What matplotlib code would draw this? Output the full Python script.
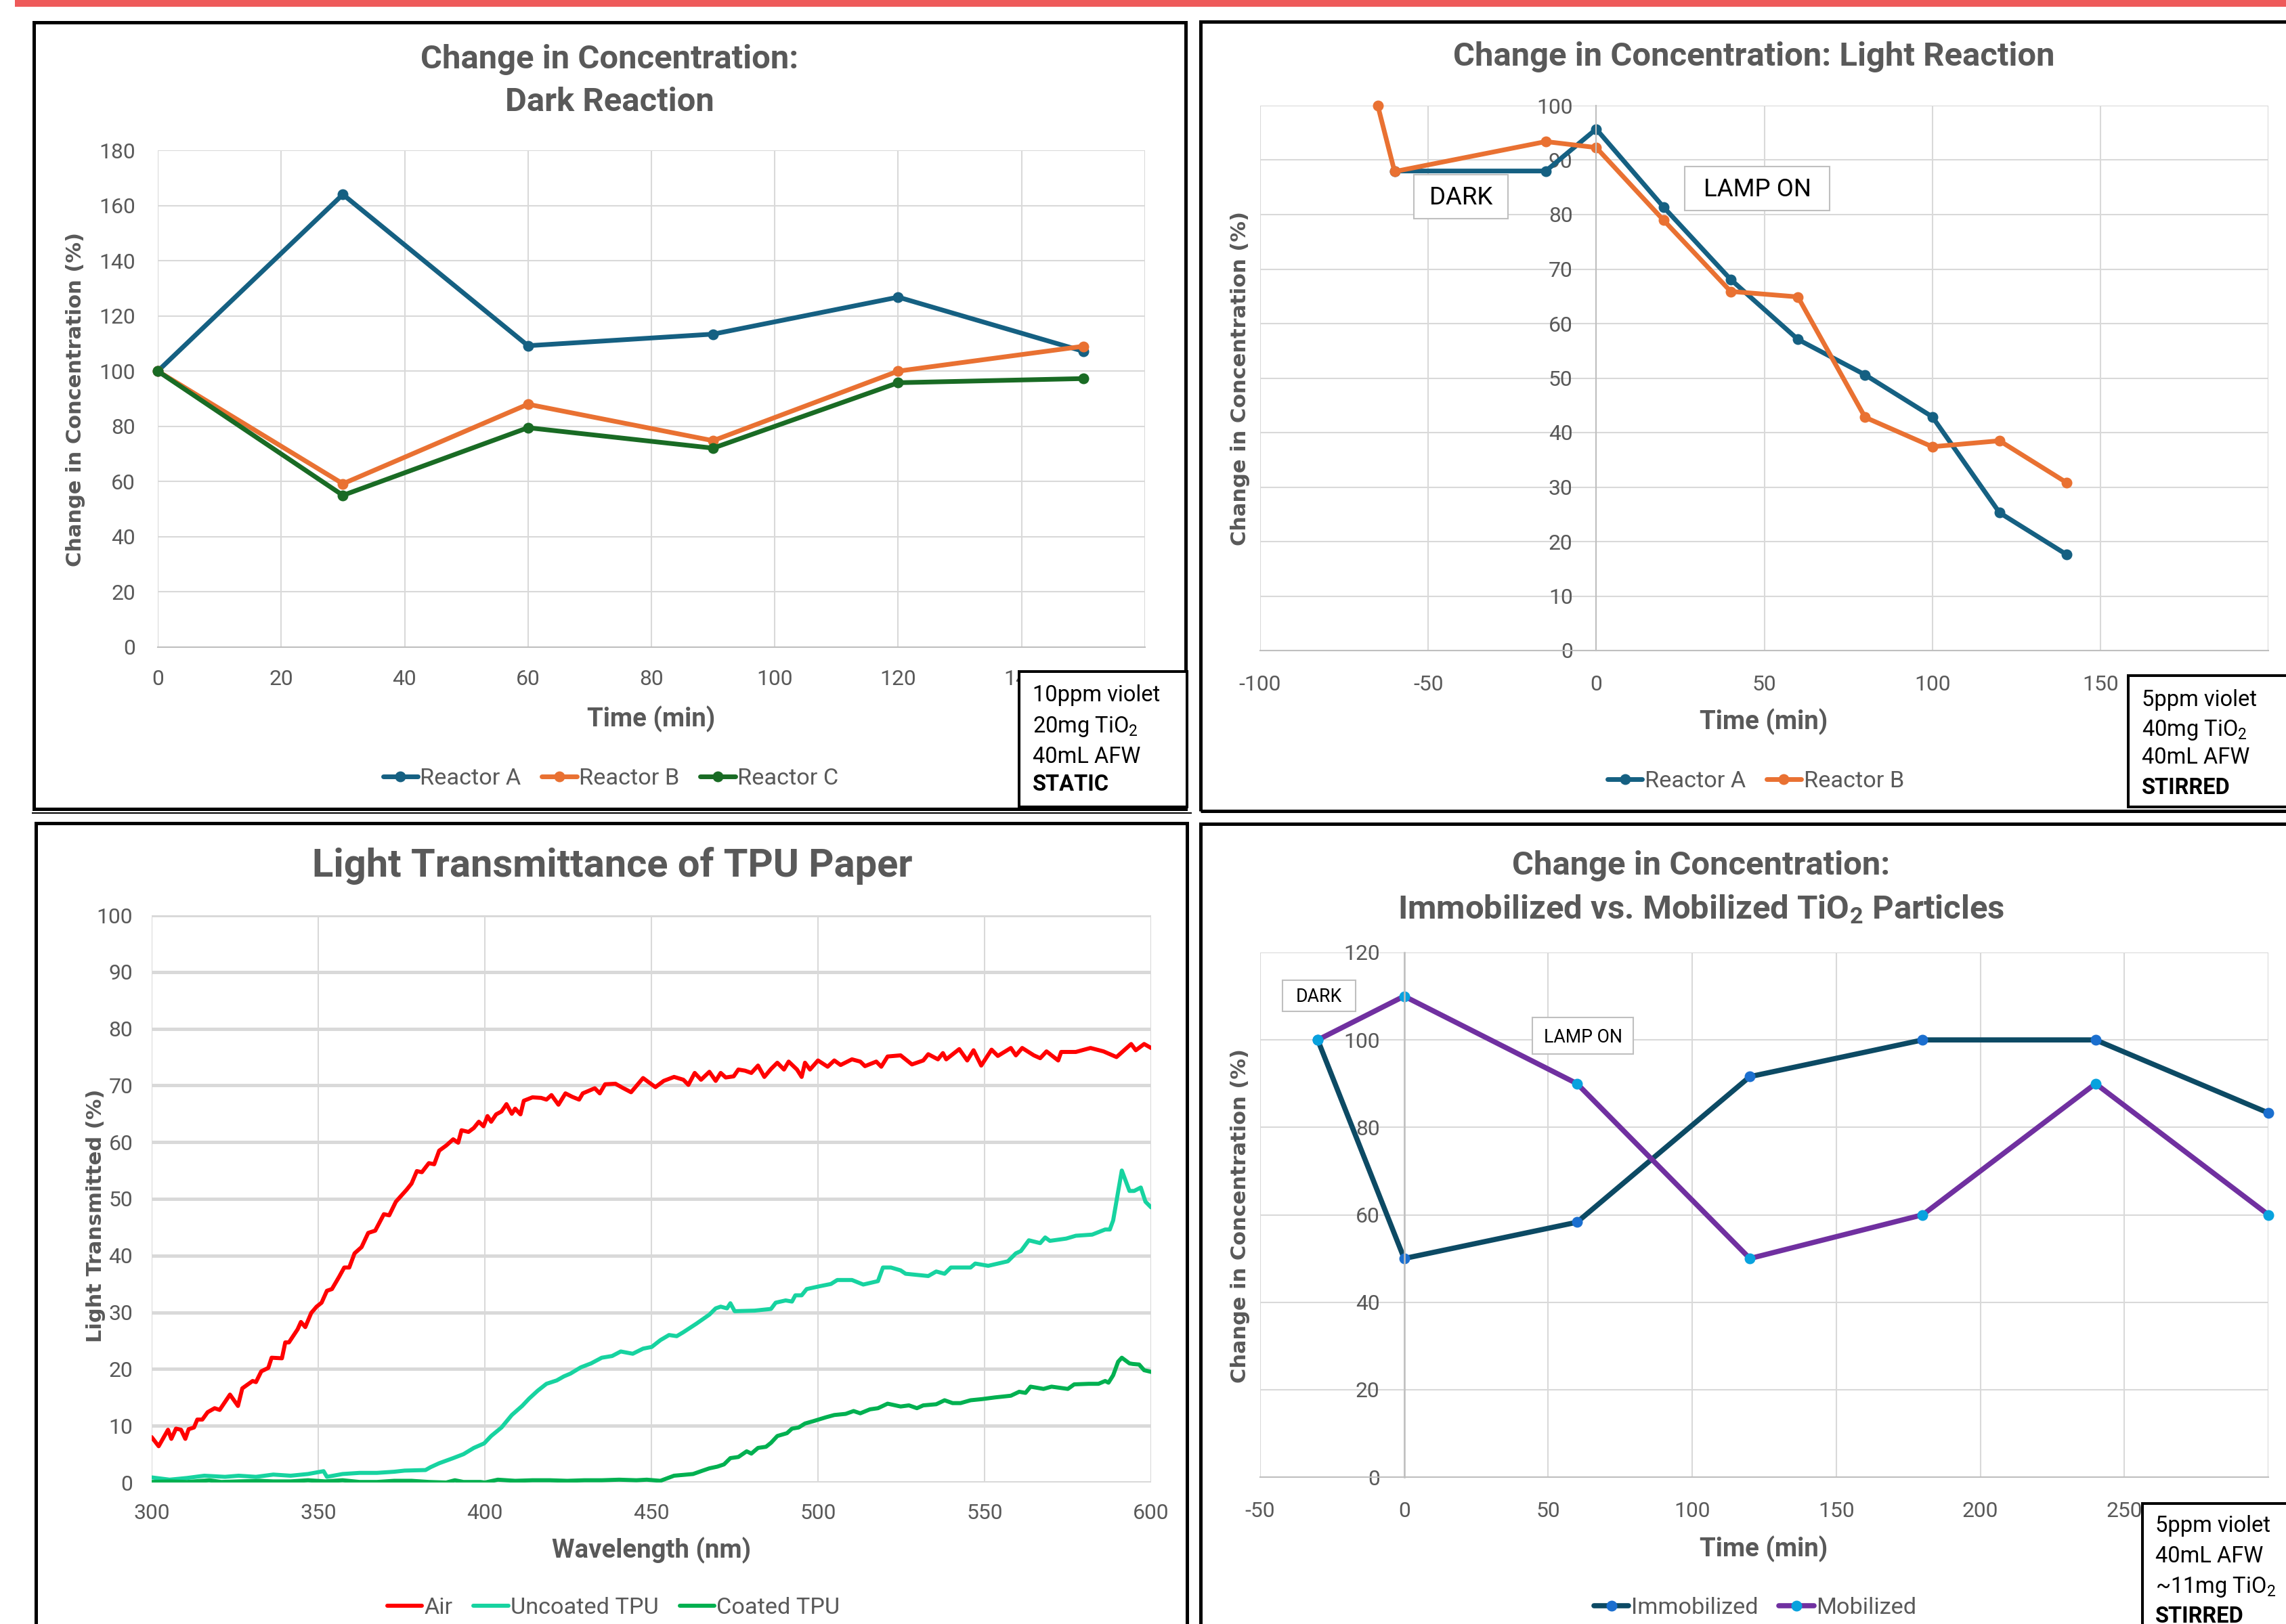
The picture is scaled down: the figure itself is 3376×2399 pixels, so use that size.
import matplotlib

# Use non-GUI backend
matplotlib.use('Agg')

import matplotlib.pyplot as plt
from matplotlib import font_manager
from matplotlib.patches import Rectangle

# -----------------------------
# DATA
# -----------------------------

# dark reaction (top left)
time_dark = [0, 30, 60, 90, 120, 150]
dark_a = [100, 164, 109.2, 113.4, 126.8, 107.2]
dark_b = [100, 59.2, 88.0, 74.8, 100, 109]
dark_c = [100, 55, 79.5, 72.1, 95.8, 97.3]

# light reaction (top right)
time_light_a = [-60, -15, 0, 20, 40, 60, 80, 100, 120, 140]
light_a = [88, 88, 95.7, 81.4, 68.1, 57.1, 50.6, 42.9, 25.3, 17.6]
time_light_b = [-65, -60, -15, 0, 20, 40, 60, 80, 100, 120, 140]
light_b = [100, 87.9, 93.4, 92.3, 79.0, 65.9, 64.9, 42.8, 37.4, 38.5, 30.8]

# immobilized vs mobilized (bottom right)
time_mob = [-30, 0, 60, 120, 180, 240, 300]
immobilized = [100, 50, 58.3, 91.6, 100, 100, 83.3]
mobilized = [100, 110, 90, 50, 60, 90, 60]

# transmittance spectra (bottom left), (wavelength nm, % transmitted)
air_curve = [
    (300.0, 8.0), (302.1, 6.4), (304.9, 9.3), (305.9, 7.7), (307.3, 9.5), (308.8, 9.3),
    (310.1, 7.7), (311.1, 9.4), (312.7, 9.7), (313.7, 11.1), (315.2, 11.1), (316.8, 12.4),
    (318.9, 13.1), (320.4, 12.8), (322.0, 14.2), (323.5, 15.5), (325.9, 13.5), (327.2, 16.6),
    (330.3, 17.9), (331.3, 17.7), (332.9, 19.6), (335.0, 20.2), (336.0, 22.0), (339.1, 21.9),
    (340.1, 24.7), (341.2, 24.7), (343.8, 27.0), (344.8, 28.3), (346.1, 27.4), (347.9, 29.9),
    (349.5, 31.0), (351.0, 31.7), (352.6, 33.8), (354.1, 34.1), (356.2, 36.2), (357.8, 37.9),
    (359.3, 37.9), (360.9, 40.4), (363.0, 41.5), (365.0, 44.0), (367.1, 44.4), (369.7, 47.3),
    (371.3, 47.1), (373.3, 49.5), (376.5, 51.6), (378.0, 52.7), (379.6, 54.9), (381.1, 54.7),
    (383.2, 56.3), (384.8, 56.1), (386.3, 58.5), (388.4, 59.4), (390.5, 60.5), (392.0, 59.9),
    (393.0, 62.1), (395.1, 61.8), (396.7, 62.5), (398.2, 63.6), (399.6, 62.8), (400.8, 64.6),
    (401.9, 63.6), (403.4, 64.9), (405.0, 65.4), (406.5, 66.7), (408.1, 65.0), (409.1, 65.9),
    (410.7, 64.9), (411.7, 67.3), (414.3, 67.9), (416.9, 67.8), (418.5, 67.5), (420.0, 68.3),
    (422.1, 66.6), (424.2, 68.6), (426.2, 68.0), (428.3, 67.5), (429.4, 68.6), (433.0, 69.5),
    (434.5, 68.6), (436.1, 70.2), (439.2, 70.3), (441.3, 69.6), (443.9, 68.8), (447.5, 71.3),
    (449.1, 70.6), (451.2, 69.7), (453.7, 70.8), (456.8, 71.5), (459.6, 71.0), (461.1, 70.1),
    (463.0, 72.2), (464.9, 71.0), (467.4, 72.4), (469.3, 70.8), (470.8, 72.2), (472.3, 71.4),
    (474.7, 71.6), (476.1, 72.8), (478.1, 72.6), (480.0, 72.2), (482.0, 73.5), (483.9, 71.5),
    (485.9, 72.9), (487.8, 74.0), (489.8, 72.8), (491.2, 74.2), (493.7, 72.8), (495.1, 71.5),
    (496.1, 74.0), (497.6, 72.8), (500.0, 74.4), (502.9, 73.3), (504.9, 74.4), (506.8, 73.6),
    (510.2, 74.6), (512.7, 74.2), (514.1, 73.4), (517.5, 74.2), (519.0, 73.3), (520.9, 75.1),
    (524.8, 75.3), (528.2, 73.7), (531.6, 74.4), (533.1, 75.5), (536.0, 74.6), (537.5, 75.7),
    (538.5, 74.6), (542.4, 76.4), (544.8, 74.4), (546.7, 76.2), (549.0, 73.5), (552.1, 76.3),
    (554.0, 75.2), (557.9, 76.6), (559.4, 75.3), (561.3, 76.6), (564.8, 75.3), (566.7, 74.8),
    (568.6, 76.0), (572.1, 74.4), (573.0, 75.9), (577.4, 75.9), (581.8, 76.6), (585.7, 76.0),
    (589.6, 75.0), (594.0, 77.3), (595.4, 76.2), (597.9, 77.3), (600.0, 76.6),
]

uncoated_curve = [
    (300.0, 0.9), (305.4, 0.5), (310.6, 0.8), (315.8, 1.2), (322.0, 1.0), (326.1, 1.2),
    (331.3, 1.0), (336.5, 1.4), (341.7, 1.2), (346.9, 1.5), (351.6, 2.0), (352.6, 1.0),
    (357.3, 1.5), (362.4, 1.7), (367.6, 1.7), (372.8, 1.9), (375.9, 2.1), (382.2, 2.2),
    (383.7, 2.7), (386.3, 3.4), (390.5, 4.3), (393.6, 5.0), (396.7, 6.1), (399.8, 6.9),
    (401.9, 8.2), (405.0, 9.7), (408.1, 11.9), (411.2, 13.5), (413.3, 14.8), (415.9, 16.2),
    (418.5, 17.4), (421.6, 18.0), (423.7, 18.7), (425.7, 19.2), (428.8, 20.3), (431.9, 21.0),
    (435.1, 22.0), (438.2, 22.3), (440.8, 23.1), (444.4, 22.7), (447.5, 23.6), (450.1, 23.9),
    (452.7, 25.1), (455.3, 26.0), (457.6, 25.8), (459.6, 26.5), (463.5, 28.0), (467.4, 29.6),
    (469.3, 30.7), (470.8, 31.0), (472.7, 30.7), (473.7, 31.6), (475.0, 30.2), (481.0, 30.3),
    (485.9, 30.6), (487.3, 31.7), (490.3, 32.1), (492.2, 31.9), (493.2, 33.0), (495.1, 33.0),
    (496.6, 34.1), (500.5, 34.6), (503.9, 35.0), (505.8, 35.7), (510.2, 35.7), (513.6, 34.9),
    (518.0, 35.5), (519.5, 37.9), (521.9, 37.9), (524.8, 37.4), (526.3, 36.8), (533.1, 36.4),
    (535.5, 37.2), (538.0, 36.8), (539.9, 37.9), (545.8, 37.9), (547.2, 38.6), (551.1, 38.2),
    (557.0, 39.0), (559.4, 40.4), (560.9, 40.8), (563.3, 42.7), (566.7, 42.2), (568.2, 43.2),
    (569.6, 42.6), (574.5, 43.0), (577.4, 43.5), (582.3, 43.7), (586.2, 44.6), (587.6, 44.6),
    (588.6, 46.2), (590.1, 51.3), (591.2, 55.0), (593.5, 51.4), (594.9, 51.4), (596.9, 52.0),
    (598.3, 49.5), (600.0, 48.5),
]

coated_curve = [
    (300.0, 0.1), (305.4, 0.2), (310.6, 0.1), (317.3, 0.4), (320.9, 0.1), (326.1, 0.2),
    (332.4, 0.3), (336.5, 0.2), (341.7, 0.2), (346.9, 0.4), (352.1, 0.2), (357.3, 0.4),
    (362.4, 0.1), (367.6, 0.1), (372.8, 0.3), (378.0, 0.3), (383.2, 0.1), (388.4, 0.0),
    (391.0, 0.4), (393.6, 0.1), (398.7, 0.1), (400.0, 0.0), (403.9, 0.5), (409.1, 0.3),
    (414.3, 0.4), (419.5, 0.4), (424.7, 0.3), (429.9, 0.4), (435.1, 0.4), (440.3, 0.5),
    (445.5, 0.4), (448.6, 0.5), (452.7, 0.3), (456.8, 1.2), (462.5, 1.5), (465.4, 2.1),
    (467.4, 2.5), (469.8, 2.8), (471.8, 3.2), (473.7, 4.3), (476.1, 4.5), (478.6, 5.5),
    (480.0, 5.1), (482.0, 6.1), (484.4, 6.3), (485.9, 7.0), (487.8, 8.2), (490.7, 8.7),
    (492.2, 9.5), (494.2, 9.7), (496.1, 10.4), (498.5, 10.8), (502.4, 11.5), (504.9, 11.9),
    (508.3, 12.1), (510.7, 12.6), (512.7, 12.2), (515.6, 12.9), (518.0, 13.1), (520.9, 13.9),
    (524.8, 13.4), (527.3, 13.6), (529.7, 13.1), (531.6, 13.6), (535.5, 13.8), (538.0, 14.5),
    (540.4, 14.0), (542.8, 14.0), (545.8, 14.5), (549.2, 14.7), (553.1, 15.0), (557.9, 15.3),
    (560.4, 16.0), (562.3, 15.8), (563.8, 16.9), (567.7, 16.5), (570.1, 16.9), (575.0, 16.5),
    (576.9, 17.3), (581.3, 17.4), (584.2, 17.4), (586.2, 17.9), (587.2, 17.6), (588.6, 18.9),
    (590.1, 21.3), (591.2, 22.0), (593.5, 21.0), (594.5, 20.9), (596.4, 20.8), (597.9, 19.8),
    (600.0, 19.5),
]

# -----------------------------
# FONTS / STYLE
# -----------------------------

installed = {f.name for f in font_manager.fontManager.ttflist}
if 'Liberation Sans Narrow' in installed:
    NARROW, K = 'Liberation Sans Narrow', 1.0
else:
    NARROW, K = 'Roboto', 0.85
BODY = 'Roboto'

plt.rcParams['font.family'] = [NARROW, 'DejaVu Sans']
plt.rcParams['axes.unicode_minus'] = False
plt.rcParams['mathtext.fontset'] = 'custom'
plt.rcParams['mathtext.rm'] = BODY
plt.rcParams['mathtext.it'] = BODY + ':italic'
plt.rcParams['mathtext.bf'] = NARROW + ':bold'

GRAY = '#595959'
GRID = '#D9D9D9'
AXIS = '#BFBFBF'

TITLE = 41.5 * K
TICK = 27 * K
AXTITLE = 32.5 * K
LEG = 29 * K
YLAB = 22
BOXFONT = 23.5

W, H = 3376, 2399
fig = plt.figure(figsize=(W / 100, H / 100), dpi=100)


def add_ax(l, t, r, b):
    ax = fig.add_axes([l / W, 1 - b / H, (r - l) / W, (b - t) / H])
    for s in ax.spines.values():
        s.set_visible(False)
    ax.tick_params(length=0, labelsize=TICK, labelcolor=GRAY)
    ax.set_axisbelow(True)
    return ax


def txt(x, y, s, **kw):
    fig.text(x / W, 1 - y / H, s, **kw)


def rect(l, t, r, b, lw, ec='black', fc='none', z=1):
    fig.add_artist(Rectangle((l / W, 1 - b / H), (r - l) / W, (b - t) / H,
                             transform=fig.transFigure, lw=lw, ec=ec, fc=fc, zorder=z))


def legend(ax, x, y, ncol):
    h, lab = ax.get_legend_handles_labels()
    fig.legend(h, lab, loc='center', bbox_to_anchor=(x / W, 1 - y / H), ncol=ncol,
               frameon=False, fontsize=LEG, labelcolor=GRAY, handlelength=1.5,
               handletextpad=0.1, columnspacing=0.9, borderaxespad=0)


def ylabel(x, y, s):
    txt(x, y, s, rotation=90, ha='center', va='center', color=GRAY,
        family='DejaVu Sans', weight='bold', fontsize=YLAB)


def xlabel(x, y, s):
    txt(x, y, s, ha='center', va='center', color=GRAY, weight='bold', fontsize=AXTITLE)


def title(x, y, s, size=TITLE):
    txt(x, y, s, ha='center', va='center', color=GRAY, weight='bold', fontsize=size)


def note(l, t, x, baselines, lines):
    rect(l, t, 3400 if l > 3000 else 1753, 2420 if t > 2000 else 1192, 2.9, fc='white', z=2)
    for i, (yb, s) in enumerate(zip(baselines, lines)):
        w = 'bold' if i == len(lines) - 1 else 'normal'
        txt(x, yb, s, ha='left', va='baseline', family=BODY, weight=w,
            fontsize=BOXFONT, color='black', zorder=3)


def tag(l, t, r, b, s, size):
    rect(l, t, r, b, 1.5, ec=AXIS, fc='white', z=2)
    txt((l + r) / 2, (t + b) / 2 + 2, s, ha='center', va='center', fontsize=size,
        color='black', zorder=3)


line_kw = dict(lw=5, marker='o', ms=10.5, clip_on=False,
               solid_joinstyle='round', solid_capstyle='round')

# -----------------------------
# TOP LEFT: DARK REACTION
# -----------------------------

ax = add_ax(233, 222, 1691, 956)
ax.plot(time_dark, dark_a, color='#156082', label='Reactor A', **line_kw)
ax.plot(time_dark, dark_b, color='#E97132', label='Reactor B', **line_kw)
ax.plot(time_dark, dark_c, color='#196B24', label='Reactor C', **line_kw)
ax.set_xlim(0, 160)
ax.set_ylim(0, 180)
ax.set_xticks(range(0, 161, 20))
ax.set_yticks(range(0, 181, 20))
ax.grid(color=GRID, lw=1.5)
ax.spines['bottom'].set_visible(True)
ax.spines['bottom'].set_color(AXIS)
ax.spines['bottom'].set_linewidth(1.5)
ax.tick_params(axis='x', pad=24)
ax.tick_params(axis='y', pad=24)

title(900, 88, 'Change in Concentration:')
title(900, 151, 'Dark Reaction')
xlabel(962, 1062, 'Time (min)')
ylabel(112, 590, 'Change in Concentration (%)')
legend(ax, 902, 1150, 3)

# -----------------------------
# TOP RIGHT: LIGHT REACTION
# -----------------------------

ax = add_ax(1861, 156, 3350, 961)
ax.plot(time_light_a, light_a, color='#156082', label='Reactor A', **line_kw)
ax.plot(time_light_b, light_b, color='#E97132', label='Reactor B', **line_kw)
ax.set_xlim(-100, 200)
ax.set_ylim(0, 100)
ax.set_xticks(range(-100, 201, 50))
ax.set_yticks(range(0, 101, 10))
ax.grid(color=GRID, lw=1.5)
ax.spines['left'].set_visible(True)
ax.spines['left'].set_position(('data', 0))
ax.spines['left'].set_color(AXIS)
ax.spines['left'].set_linewidth(1.5)
ax.spines['bottom'].set_visible(True)
ax.spines['bottom'].set_color(AXIS)
ax.spines['bottom'].set_linewidth(1.5)
ax.tick_params(axis='x', pad=26)
ax.tick_params(axis='y', pad=25)

title(2590, 84, 'Change in Concentration: Light Reaction')
xlabel(2605, 1066, 'Time (min)')
ylabel(1832, 559, 'Change in Concentration (%)')
legend(ax, 2593, 1154, 2)
tag(2088, 258, 2227, 323, 'DARK', 31 * K)
tag(2488, 246, 2702, 311, 'LAMP ON', 31 * K)

# -----------------------------
# BOTTOM LEFT: TRANSMITTANCE
# -----------------------------

ax = add_ax(224, 1352, 1700, 2190)
for curve, color, name in [(air_curve, '#FF0000', 'Air'),
                           (uncoated_curve, '#17D3A0', 'Uncoated TPU'),
                           (coated_curve, '#00B050', 'Coated TPU')]:
    wl, tr = zip(*curve)
    ax.plot(wl, tr, color=color, lw=4.3, label=name,
            solid_joinstyle='round', solid_capstyle='round')
ax.set_xlim(300, 600)
ax.set_ylim(0, 100)
ax.set_xticks(range(300, 601, 50))
ax.set_yticks(range(0, 101, 10))
ax.grid(axis='y', color=GRID, lw=3.6)
ax.grid(axis='x', color=GRID, lw=1.5)
ax.tick_params(axis='x', pad=22)
ax.tick_params(axis='y', pad=20)

title(904, 1279, 'Light Transmittance of TPU Paper', size=49 * K)
xlabel(962, 2290, 'Wavelength (nm)')
ylabel(142, 1796, 'Light Transmitted (%)')
legend(ax, 906, 2375, 3)

# -----------------------------
# BOTTOM RIGHT: IMMOBILIZED VS MOBILIZED
# -----------------------------

ax = add_ax(1861, 1407, 3350, 2182)
mob_kw = dict(line_kw, lw=5.5)
ax.plot(time_mob, immobilized, color='#0C4A64', mfc='#1B6FCF', mec='#1B6FCF',
        label='Immobilized', **mob_kw)
ax.plot(time_mob, mobilized, color='#7030A0', mfc='#08A2DE', mec='#08A2DE',
        label='Mobilized', **mob_kw)
ax.set_xlim(-50, 300)
ax.set_ylim(0, 120)
ax.set_xticks(range(-50, 301, 50))
ax.set_yticks(range(0, 121, 20))
ax.grid(color=GRID, lw=1.5)
ax.spines['left'].set_visible(True)
ax.spines['left'].set_position(('data', 0))
ax.spines['left'].set_color(AXIS)
ax.spines['left'].set_linewidth(1.8)
ax.spines['bottom'].set_visible(True)
ax.spines['bottom'].set_color(AXIS)
ax.spines['bottom'].set_linewidth(1.5)
ax.tick_params(axis='x', pad=26)
ax.tick_params(axis='y', pad=26)

title(2512, 1279, 'Change in Concentration:')
title(2512, 1343, r'Immobilized vs. Mobilized TiO$_\mathbf{2}$ Particles')
xlabel(2605, 2288, 'Time (min)')
ylabel(1832, 1796, 'Change in Concentration (%)')
legend(ax, 2592, 2375, 2)
tag(1894, 1448, 2002, 1494, 'DARK', 22.5 * K)
tag(2263, 1503, 2412, 1557, 'LAMP ON', 22.5 * K)

# -----------------------------
# FRAMES AND NOTES
# -----------------------------

rect(22, 0, 3400, 10, 0, ec='none', fc='#EE5A5A')
rect(50, 33, 1751, 1195, 3.6)
rect(1773, 32, 3400, 1198, 3.6)
rect(53, 1216, 1753, 2420, 3.6)
rect(1773, 1217, 3400, 2420, 3.6)
rect(47, 1200, 1760, 1202, 0, ec='none', fc='black')

note(1505, 992, 1525, [1036, 1082, 1127, 1168],
     ['10ppm violet', '20mg TiO$_2$', '40mL AFW', 'STATIC'])
note(3143, 998, 3163, [1043, 1087, 1128, 1173],
     ['5ppm violet', '40mg TiO$_2$', '40mL AFW', 'STIRRED'])
note(3164, 2221, 3183, [2263, 2308, 2353, 2397],
     ['5ppm violet', '40mL AFW', '~11mg TiO$_2$', 'STIRRED'])

fig.savefig('out.png', dpi=100)
plt.close(fig)
